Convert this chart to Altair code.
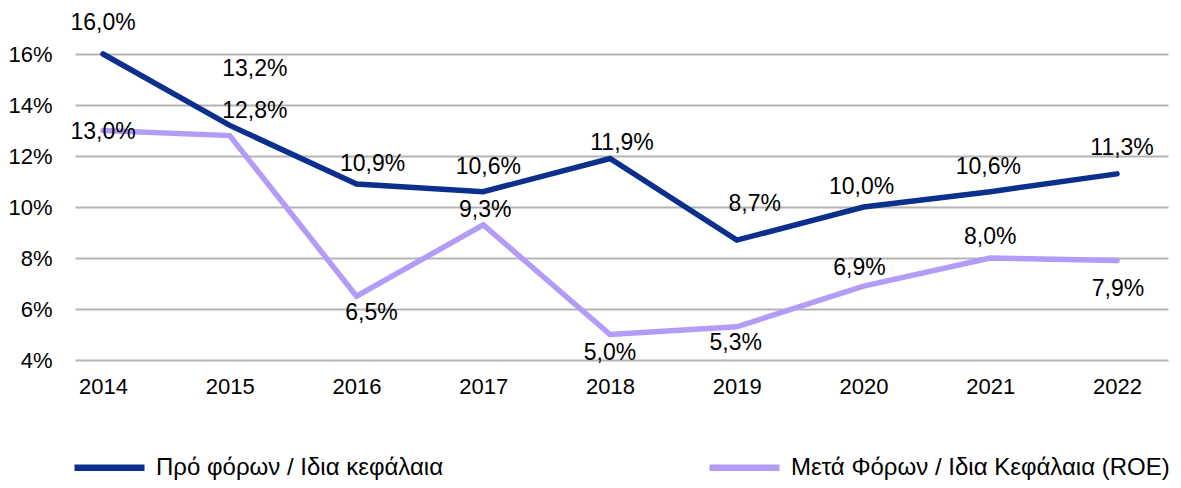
import altair as alt
import pandas as pd

years = [2014, 2015, 2016, 2017, 2018, 2019, 2020, 2021, 2022]
pre_tax = [16.0, 13.2, 10.9, 10.6, 11.9, 8.7, 10.0, 10.6, 11.3]
after_tax = [13.0, 12.8, 6.5, 9.3, 5.0, 5.3, 6.9, 8.0, 7.9]
series_names = ["Πρό φόρων / Ιδια κεφάλαια", "Μετά Φόρων / Ιδια Κεφάλαια (ROE)"]
series_colors = ["#0b2f8c", "#b39cf7"]

# label placement offsets (pixels) relative to each point
pre_dx = [0, 25, 16, 5, 12, 18, -2, -2, 5]
pre_dy = [-31, -56, -20, -25, -16, -36, -20, -25, -26]
after_dx = [0, 25, 15, 2, 0, -1, -4, 0, 1]
after_dy = [1, -25, 17, -15, 18, 16, -18, -21, 28]

rows = []
for name, vals, dxs, dys in [
    (series_names[0], pre_tax, pre_dx, pre_dy),
    (series_names[1], after_tax, after_dx, after_dy),
]:
    for y, v, dx, dy in zip(years, vals, dxs, dys):
        rows.append({"year": y, "value": v, "series": name, "dx": dx, "dy": dy})
df = pd.DataFrame(rows)

FONT = "Liberation Sans"

x_enc = alt.X(
    "year:Q",
    scale=alt.Scale(domain=[2013.779, 2022.402], nice=False, zero=False),
    axis=alt.Axis(
        values=years, format="d", title=None, grid=False, domain=False, ticks=False,
        labelFontSize=22, labelFont=FONT, labelColor="black", labelPadding=16,
        labelFlush=False, labelOverlap=False,
    ),
)
y_enc = alt.Y(
    "value:Q",
    scale=alt.Scale(domain=[4, 16], nice=False, zero=False),
    axis=alt.Axis(
        values=[4, 6, 8, 10, 12, 14, 16], labelExpr="datum.value + '%'", title=None,
        domain=False, ticks=False, gridColor="#b4b4b4", gridWidth=2,
        labelFontSize=22, labelFont=FONT, labelColor="black", labelPadding=23,
    ),
)

base = alt.Chart(df)

lines = base.mark_line(strokeWidth=5.5, strokeCap="round").encode(
    x=x_enc,
    y=y_enc,
    color=alt.Color(
        "series:N",
        scale=alt.Scale(domain=series_names, range=series_colors),
        sort=series_names,
        legend=alt.Legend(
            title=None, orient="none", legendX=-4, legendY=375,
            direction="horizontal", symbolType="stroke", symbolSize=4900,
            symbolStrokeWidth=6.5, labelFontSize=24, labelFont=FONT,
            labelColor="black", labelLimit=700, labelOffset=8,
            columnPadding=252,
        ),
    ),
    detail="series:N",
)

labels = base.mark_text(
    fontSize=23, font=FONT, color="black",
    dx=alt.ExprRef(expr="datum.dx"), dy=alt.ExprRef(expr="datum.dy"),
).transform_calculate(
    label="replace(format(datum.value, '.1f'), '.', ',') + '%'"
).encode(
    x=x_enc,
    y=y_enc,
    text="label:N",
)

chart = alt.layer(lines, labels).properties(
    width=1093,
    height=306,
    autosize=alt.AutoSizeParams(type="none"),
    padding={"left": 67, "top": 46, "right": 5, "bottom": 120},
    background="white",
).configure_view(stroke=None)

chart.save("out.html", embed_options={"renderer": "svg", "actions": False})
